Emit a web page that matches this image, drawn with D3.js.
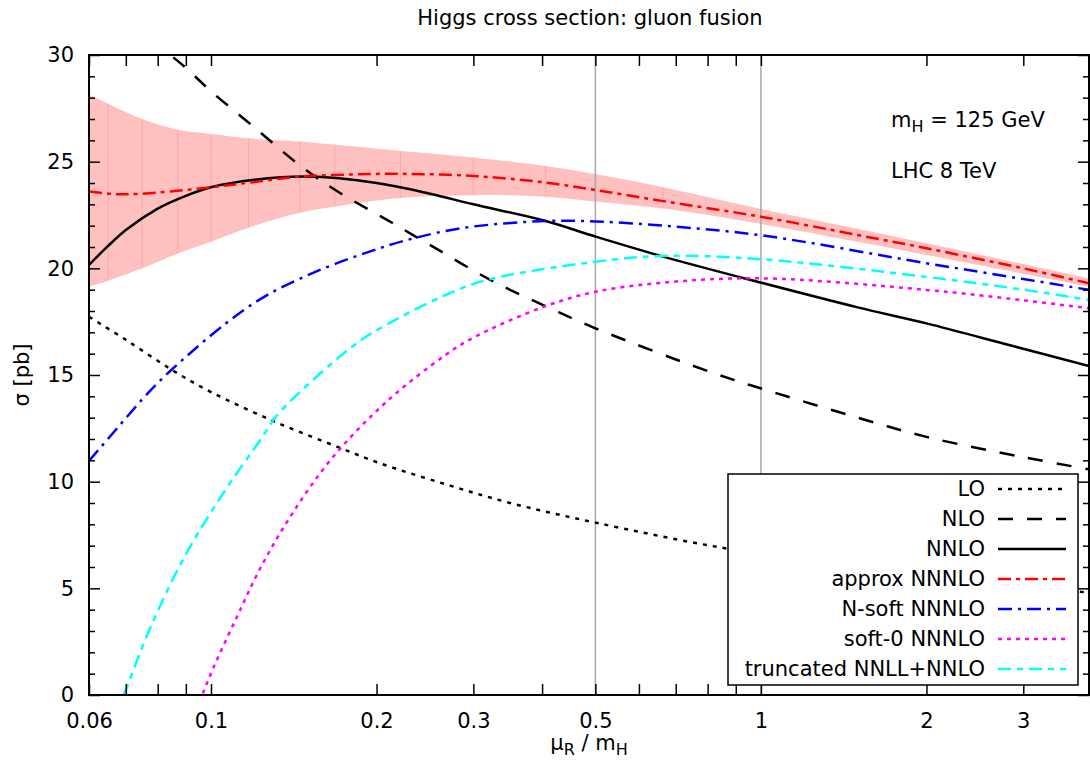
<!DOCTYPE html>
<html>
<head>
<meta charset="utf-8">
<script src="https://cdnjs.cloudflare.com/ajax/libs/d3/7.8.5/d3.min.js"></script>
<style>
  body { margin: 0; background: #fff; }
  svg { font-family: "DejaVu Sans", sans-serif; }
</style>
</head>
<body>
<svg></svg>
<script>

var width = 1090, height = 762;

// axis ticks
var xTicks = [0.06, 0.07, 0.08, 0.09, 0.1, 0.2, 0.3, 0.4, 0.5, 0.6, 0.7, 0.8, 0.9, 1, 2, 3];
var xLabels = [0.06, 0.1, 0.2, 0.3, 0.5, 1, 2, 3];
var yMajor = [0, 5, 10, 15, 20, 25, 30];
var yMinor = [1, 2, 3, 4, 6, 7, 8, 9, 11, 12, 13, 14, 16, 17, 18, 19, 21, 22, 23, 24, 26, 27, 28, 29];
var refLines = [0.5, 1];

// curves, [mu_R/m_H, sigma in pb]
var lo = [[0.06, 17.73], [0.07, 16.65], [0.0849, 15.24], [0.1, 14.2], [0.131, 12.8], [0.173, 11.55],
  [0.203, 10.86], [0.267, 9.88], [0.35, 9.0], [0.5, 8.08], [0.86, 6.88], [1.5, 6.0], [2.5, 5.3], [3.95, 4.8]];
var nlo = [[0.078, 30.8], [0.0844, 30], [0.09, 29.4], [0.1, 28.3], [0.12, 26.6], [0.1455, 24.8], [0.17, 23.6],
  [0.209, 22.27], [0.25, 21.1], [0.322, 19.46], [0.4, 18.3], [0.5, 17.19], [0.822, 15.08], [1.07, 14.14],
  [1.5, 13.0], [2, 12.1], [3, 11.15], [3.95, 10.58]];
var nnlo = [[0.06, 20.16], [0.065, 21.05], [0.07, 21.8], [0.08, 22.8], [0.09, 23.4], [0.1, 23.8], [0.12, 24.15],
  [0.15, 24.3], [0.2, 24.0], [0.25, 23.5], [0.3, 23.0], [0.406, 22.22], [0.5, 21.49], [0.664, 20.55],
  [1, 19.33], [1.5, 18.17], [2, 17.42], [2.85, 16.38], [3.95, 15.42]];
var approx = [[0.06, 23.6], [0.065, 23.5], [0.07, 23.47], [0.08, 23.55], [0.1, 23.8], [0.12, 24.05],
  [0.1455, 24.3], [0.18, 24.4], [0.221, 24.43], [0.3, 24.33], [0.406, 24.02], [0.5, 23.67], [0.664, 23.15],
  [1, 22.42], [1.5, 21.56], [2, 20.94], [3, 20.0], [3.95, 19.3]];
var nsoft = [[0.06, 10.97], [0.068, 12.6], [0.0771, 14.2], [0.0844, 15.2], [0.1062, 17.4], [0.1256, 18.7],
  [0.157, 19.9], [0.203, 20.95], [0.233, 21.4], [0.288, 21.9], [0.406, 22.22], [0.5, 22.2], [0.664, 22.0],
  [1, 21.55], [2, 20.24], [3, 19.5], [3.95, 18.99]];
var soft0 = [[0.094, -0.7], [0.0964, 0], [0.1012, 1.33], [0.1115, 3.67], [0.1229, 5.94], [0.1394, 8.36],
  [0.165, 11.02], [0.2075, 13.7], [0.267, 15.94], [0.3, 16.75], [0.403, 18.2], [0.5, 18.9], [0.664, 19.33],
  [1, 19.53], [2, 18.99], [3, 18.5], [3.95, 18.13]];
var trunc = [[0.066, -1.4], [0.0694, 0], [0.0777, 3.2], [0.0898, 6.55], [0.1062, 9.61], [0.1229, 11.95],
  [0.1328, 13.2], [0.1806, 16.33], [0.203, 17.19], [0.267, 18.75], [0.318, 19.46], [0.5, 20.31],
  [0.664, 20.58], [1, 20.43], [2, 19.6], [3, 19.0], [3.95, 18.52]];

// uncertainty band of approx NNNLO
var bandMu = [0.06, 0.065, 0.075, 0.087, 0.1, 0.117, 0.145, 0.168, 0.221, 0.3, 0.406, 0.5, 0.664, 1, 1.5, 2, 3, 3.95];
var bandHi = [28.15, 27.72, 27.0, 26.5, 26.3, 26.1, 25.95, 25.8, 25.5, 25.2, 24.8, 24.42, 23.8, 22.78, 21.85, 21.17, 20.2, 19.53];
var bandLo = [19.15, 19.42, 20.0, 20.7, 21.25, 21.9, 22.6, 22.9, 23.3, 23.43, 23.36, 23.13, 22.8, 22.08, 21.25, 20.63, 19.75, 19.14];

var series = [
  { name: "LO", data: lo, color: "black", dash: "4,6" },
  { name: "NLO", data: nlo, color: "black", dash: "15,14" },
  { name: "NNLO", data: nnlo, color: "black", dash: null },
  { name: "approx NNNLO", data: approx, color: "#ff0000", dash: "13,5,4,5" },
  { name: "N-soft NNNLO", data: nsoft, color: "#0000ff", dash: "14,6,3,6" },
  { name: "soft-0 NNNLO", data: soft0, color: "#ff00ff", dash: "4,5" },
  { name: "truncated NNLL+NNLO", data: trunc, color: "#00ffff", dash: "13,6,6,6" }
];

var svg = d3.select("svg")
    .attr("width", width)
    .attr("height", height);

svg.append("rect")
    .attr("width", "100%")
    .attr("height", "100%")
    .attr("fill", "white");

var x = d3.scaleLog().domain([0.06, 3.95]).range([89, 1089]);
var y = d3.scaleLinear().domain([0, 30]).range([695, 55]);

svg.append("clipPath").attr("id", "plotclip")
  .append("rect")
    .attr("x", x.range()[0]).attr("y", y.range()[1])
    .attr("width", x.range()[1] - x.range()[0])
    .attr("height", y.range()[0] - y.range()[1]);

var plot = svg.append("g").attr("clip-path", "url(#plotclip)");

var smooth = d3.curveCatmullRom.alpha(0.5);

// band
var band = bandMu.map(function(m, i) { return { mu: m, hi: bandHi[i], lo: bandLo[i] }; });
plot.append("path")
    .datum(band)
    .attr("fill", "#ffc0c0")
    .attr("d", d3.area()
        .x(function(d) { return x(d.mu); })
        .y0(function(d) { return y(d.lo); })
        .y1(function(d) { return y(d.hi); })
        .curve(smooth));

// faint seams between band pieces
plot.selectAll(".seam")
    .data(band.slice(1, -1))
    .enter().append("line")
    .attr("x1", function(d) { return x(d.mu); })
    .attr("x2", function(d) { return x(d.mu); })
    .attr("y1", function(d) { return y(d.lo); })
    .attr("y2", function(d) { return y(d.hi); })
    .attr("stroke", "#f6a4a4")
    .attr("stroke-width", 0.8);

// reference lines
plot.selectAll(".ref")
    .data(refLines)
    .enter().append("line")
    .attr("x1", function(d) { return x(d); })
    .attr("x2", function(d) { return x(d); })
    .attr("y1", y(0)).attr("y2", y(30))
    .attr("stroke", "#a8a8a8")
    .attr("stroke-width", 1.5);

var line = d3.line()
    .x(function(d) { return x(d[0]); })
    .y(function(d) { return y(d[1]); })
    .curve(smooth);

plot.selectAll(".curve")
    .data(series)
    .enter().append("path")
    .attr("fill", "none")
    .attr("stroke", function(d) { return d.color; })
    .attr("stroke-width", 2.5)
    .attr("stroke-dasharray", function(d) { return d.dash; })
    .attr("d", function(d) { return line(d.data); });

// axes
function styleAxis(g) {
  g.select(".domain").remove();
  g.attr("font-size", 21).attr("font-family", "DejaVu Sans, sans-serif");
  g.selectAll("line").attr("stroke-width", 1.5);
  g.selectAll("text").attr("fill", "black");
}

svg.append("g")
    .attr("transform", "translate(0," + y(0) + ")")
    .call(d3.axisBottom(x).tickValues(xTicks).tickSize(-11).tickPadding(18)
        .tickFormat(function(d) { return xLabels.indexOf(d) >= 0 ? d3.format("~g")(d) : ""; }))
    .call(styleAxis);

svg.append("g")
    .attr("transform", "translate(0," + y(30) + ")")
    .call(d3.axisTop(x).tickValues(xTicks).tickSize(-11).tickFormat(""))
    .call(styleAxis);

svg.append("g")
    .attr("transform", "translate(" + x(0.06) + ",0)")
    .call(d3.axisLeft(y).tickValues(yMajor).tickSize(-11).tickPadding(15))
    .call(styleAxis);

svg.append("g")
    .attr("transform", "translate(" + x(0.06) + ",0)")
    .call(d3.axisLeft(y).tickValues(yMinor).tickSize(-6).tickFormat(""))
    .call(styleAxis);

svg.append("g")
    .attr("transform", "translate(" + x(3.95) + ",0)")
    .call(d3.axisRight(y).tickValues(yMajor).tickSize(-11).tickFormat(""))
    .call(styleAxis);

svg.append("g")
    .attr("transform", "translate(" + x(3.95) + ",0)")
    .call(d3.axisRight(y).tickValues(yMinor).tickSize(-6).tickFormat(""))
    .call(styleAxis);

svg.append("rect")
    .attr("x", x.range()[0]).attr("y", y.range()[1])
    .attr("width", x.range()[1] - x.range()[0])
    .attr("height", y.range()[0] - y.range()[1])
    .attr("fill", "none")
    .attr("stroke", "black")
    .attr("stroke-width", 2);

// legend
var legend = svg.append("g");
legend.append("rect")
    .attr("x", 728).attr("y", 474)
    .attr("width", 350).attr("height", 211)
    .attr("fill", "white")
    .attr("stroke", "black")
    .attr("stroke-width", 1.5);

var item = legend.selectAll(".item")
    .data(series)
    .enter().append("g")
    .attr("transform", function(d, i) { return "translate(0," + (489 + i * 30) + ")"; });

item.append("text")
    .attr("x", 985).attr("dy", "0.35em")
    .attr("text-anchor", "end")
    .attr("font-size", 21)
    .text(function(d) { return d.name; });

item.append("line")
    .attr("x1", 998).attr("x2", 1066)
    .attr("stroke", function(d) { return d.color; })
    .attr("stroke-width", 2.5)
    .attr("stroke-dasharray", function(d) { return d.dash; });

// texts
svg.append("text")
    .attr("x", 590).attr("y", 25)
    .attr("text-anchor", "middle")
    .attr("font-size", 21)
    .text("Higgs cross section: gluon fusion");

var mh = svg.append("text").attr("x", 891).attr("y", 127).attr("font-size", 21);
mh.append("tspan").text("m");
mh.append("tspan").attr("font-size", 16).attr("dy", 5).text("H");
mh.append("tspan").attr("dy", -5).text(" = 125 GeV");

svg.append("text")
    .attr("x", 891).attr("y", 178)
    .attr("font-size", 21)
    .text("LHC 8 TeV");

var xl = svg.append("text").attr("x", 589).attr("y", 750)
    .attr("text-anchor", "middle").attr("font-size", 21);
xl.append("tspan").text("\u03bc");
xl.append("tspan").attr("font-size", 16).attr("dy", 5).text("R");
xl.append("tspan").attr("dy", -5).text(" / m");
xl.append("tspan").attr("font-size", 16).attr("dy", 5).text("H");

svg.append("text")
    .attr("transform", "translate(29," + y(15) + ") rotate(-90)")
    .attr("text-anchor", "middle")
    .attr("font-size", 21)
    .text("\u03c3 [pb]");

</script>
</body>
</html>
